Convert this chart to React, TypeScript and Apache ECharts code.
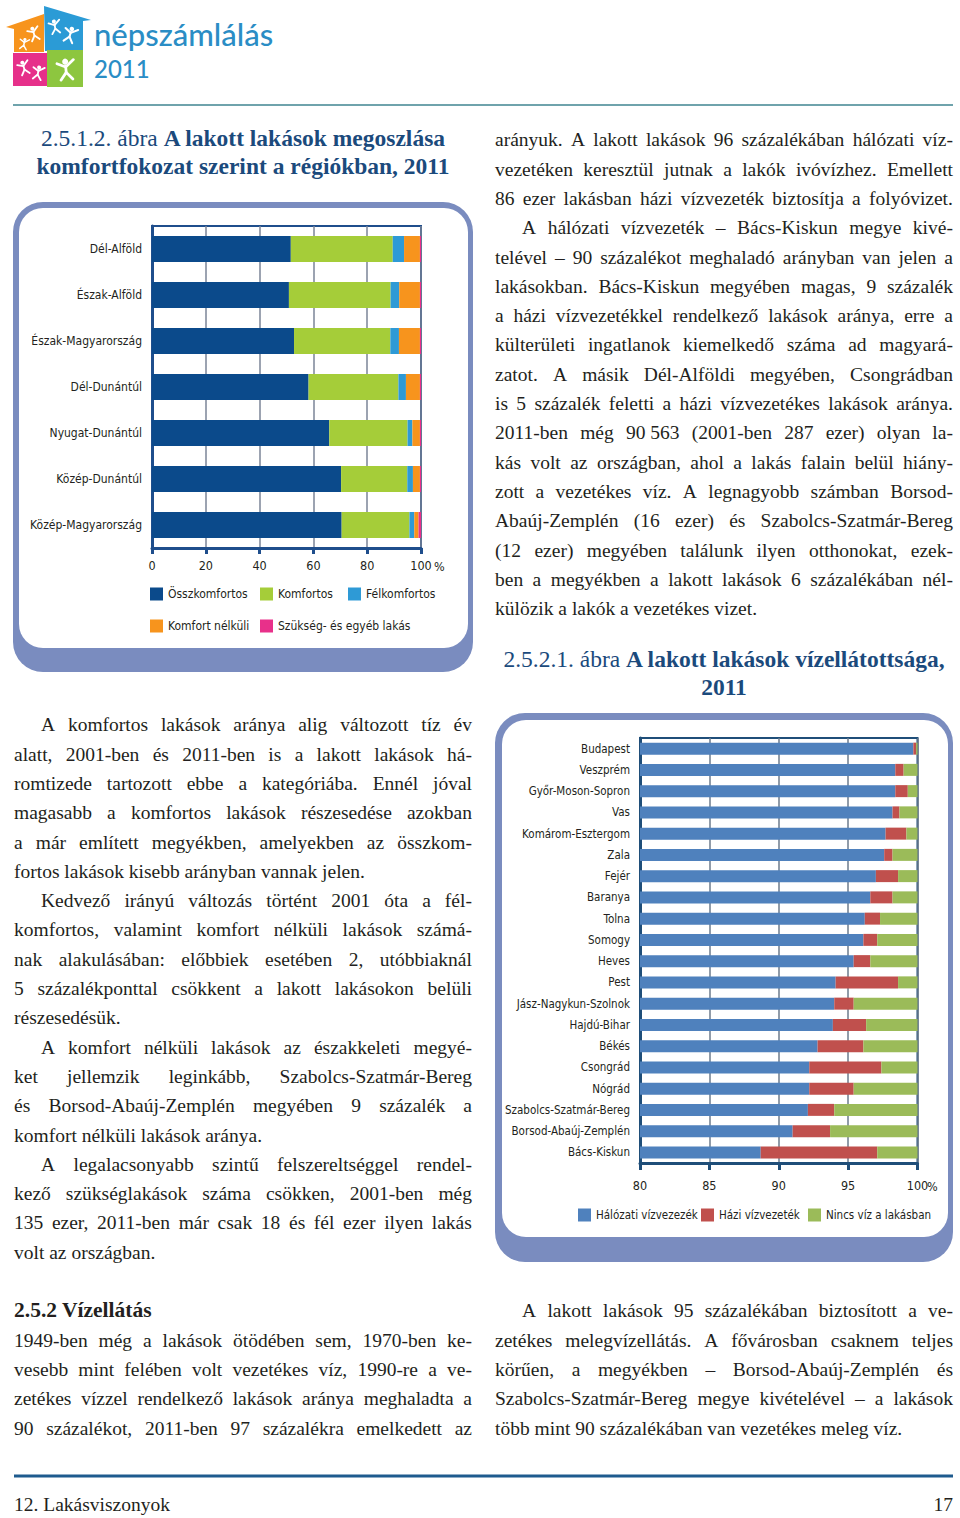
import React, { useEffect, useRef } from "react";
import * as echarts from "echarts";

// ---------- DATA ----------
const regions = ["Dél-Alföld", "Észak-Alföld", "Észak-Magyarország", "Dél-Dunántúl", "Nyugat-Dunántúl", "Közép-Dunántúl", "Közép-Magyarország"];
const osszkomfortos = [51.6, 50.9, 52.8, 58.2, 65.9, 70.3, 70.5];
const komfortos = [37.9, 37.8, 35.8, 33.4, 29.1, 24.6, 25.2];
const felkomfortos = [4.2, 3.2, 3.2, 2.8, 1.8, 2.1, 1.8];
const komfortNelkuli = [5.9, 7.7, 7.8, 5.2, 2.8, 2.6, 1.6];
const szukseg = [0.4, 0.4, 0.4, 0.4, 0.4, 0.4, 0.9];
const ticks1 = [0, 20, 40, 60, 80, 100];

const counties = ["Budapest", "Veszprém", "Győr-Moson-Sopron", "Vas", "Komárom-Esztergom", "Zala", "Fejér", "Baranya", "Tolna", "Somogy", "Heves", "Pest", "Jász-Nagykun-Szolnok", "Hajdú-Bihar", "Békés", "Csongrád", "Nógrád", "Szabolcs-Szatmár-Bereg", "Borsod-Abaúj-Zemplén", "Bács-Kiskun"];
const halozati = [99.7, 98.4, 98.4, 98.2, 97.7, 97.6, 97.0, 96.6, 96.2, 96.1, 95.4, 94.1, 94.0, 93.9, 92.8, 92.2, 92.2, 92.1, 91.0, 88.7];
const hazi = [0.2, 0.6, 0.9, 0.5, 1.5, 0.6, 1.6, 1.6, 1.1, 1.0, 1.2, 4.5, 1.4, 2.4, 3.3, 5.2, 3.2, 1.9, 2.7, 8.4];
const nincs = [0.1, 1.0, 0.7, 1.3, 0.8, 1.8, 1.4, 1.8, 2.7, 2.9, 3.4, 1.4, 4.6, 3.7, 3.9, 2.6, 4.6, 6.0, 6.3, 2.9];
const ticks2 = [80, 85, 90, 95, 100];

// ---------- STYLE ----------
const NARROW = "'Liberation Sans Narrow', 'Arial Narrow', 'DejaVu Sans Condensed', sans-serif";
const SERIF = "'Liberation Serif', 'DejaVu Serif', serif";
const TEXT = "#231F20";
const TITLE = "#1B4A7C";
const DARK1 = "#1F4E8C";
const DARK2 = "#1F4E79";
const FS = 19.5;
const LH = 29.3;

type L = { t: string; j: boolean; i: boolean };
function para(lines: string[], indent: boolean, ends: boolean): L[] {
  return lines.map((t, k) => ({ t, i: indent && k === 0, j: !(ends && k === lines.length - 1) }));
}

const leftText: L[] = [
  ...para([
    "A komfortos lakások aránya alig változott tíz év",
    "alatt, 2001-ben és 2011-ben is a lakott lakások há-",
    "romtizede tartozott ebbe a kategóriába. Ennél jóval",
    "magasabb a komfortos lakások részesedése azokban",
    "a már említett megyékben, amelyekben az összkom-",
    "fortos lakások kisebb arányban vannak jelen.",
  ], true, true),
  ...para([
    "Kedvező irányú változás történt 2001 óta a fél-",
    "komfortos, valamint komfort nélküli lakások számá-",
    "nak alakulásában: előbbiek esetében 2, utóbbiaknál",
    "5 százalékponttal csökkent a lakott lakásokon belüli",
    "részesedésük.",
  ], true, true),
  ...para([
    "A komfort nélküli lakások az északkeleti megyé-",
    "ket jellemzik leginkább, Szabolcs-Szatmár-Bereg",
    "és Borsod-Abaúj-Zemplén megyében 9 százalék a",
    "komfort nélküli lakások aránya.",
  ], true, true),
  ...para([
    "A legalacsonyabb szintű felszereltséggel rendel-",
    "kező szükséglakások száma csökken, 2001-ben még",
    "135 ezer, 2011-ben már csak 18 és fél ezer ilyen lakás",
    "volt az országban.",
  ], true, true),
];

const leftBottom: L[] = para([
  "1949-ben még a lakások ötödében sem, 1970-ben ke-",
  "vesebb mint felében volt vezetékes víz, 1990-re a ve-",
  "zetékes vízzel rendelkező lakások aránya meghaladta a",
  "90 százalékot, 2011-ben 97 százalékra emelkedett az",
], false, false);

const rightTop: L[] = [
  ...para([
    "arányuk. A lakott lakások 96 százalékában hálózati víz-",
    "vezetéken keresztül jutnak a lakók ivóvízhez. Emellett",
    "86 ezer lakásban házi vízvezeték biztosítja a folyóvizet.",
  ], false, false),
  ...para([
    "A hálózati vízvezeték – Bács-Kiskun megye kivé-",
    "telével – 90 százalékot meghaladó arányban van jelen a",
    "lakásokban. Bács-Kiskun megyében magas, 9 százalék",
    "a házi vízvezetékkel rendelkező lakások aránya, erre a",
    "külterületi ingatlanok kiemelkedő száma ad magyará-",
    "zatot. A másik Dél-Alföldi megyében, Csongrádban",
    "is 5 százalék feletti a házi vízvezetékes lakások aránya.",
    "2011-ben még 90\u00a0563 (2001-ben 287 ezer) olyan la-",
    "kás volt az országban, ahol a lakás falain belül hiány-",
    "zott a vezetékes víz. A legnagyobb számban Borsod-",
    "Abaúj-Zemplén (16 ezer) és Szabolcs-Szatmár-Bereg",
    "(12 ezer) megyében találunk ilyen otthonokat, ezek-",
    "ben a megyékben a lakott lakások 6 százalékában nél-",
    "külözik a lakók a vezetékes vizet.",
  ], true, true),
];

const rightBottom: L[] = para([
  "A lakott lakások 95 százalékában biztosított a ve-",
  "zetékes melegvízellátás. A fővárosban csaknem teljes",
  "körűen, a megyékben – Borsod-Abaúj-Zemplén és",
  "Szabolcs-Szatmár-Bereg megye kivételével – a lakások",
  "több mint 90 százalékában van vezetékes meleg víz.",
], true, true);

function Lines({ x, y0, w, lines }: { x: number; y0: number; w: number; lines: L[] }) {
  return (
    <>
      {lines.map((ln, k) => {
        const ind = ln.i ? 27 : 0;
        const y = y0 + k * LH;
        const style: React.CSSProperties = {
          position: "absolute",
          left: x + ind,
          top: y - LH / 2,
          width: w - ind,
          height: LH,
          lineHeight: LH + "px",
          fontFamily: SERIF,
          fontSize: FS,
          color: TEXT,
          whiteSpace: "nowrap",
          display: ln.j ? "flex" : "block",
          justifyContent: "space-between",
        };
        return (
          <div key={k} style={style}>
            {ln.j ? ln.t.split(" ").map((wd, q) => <span key={q}>{wd}</span>) : ln.t}
          </div>
        );
      })}
    </>
  );
}

function Title({ x, w, y, pre, bold, line2 }: { x: number; w: number; y: number; pre: string; bold: string; line2: string }) {
  const base: React.CSSProperties = {
    position: "absolute", left: x, width: w, textAlign: "center", fontFamily: SERIF,
    fontSize: 23.5, color: TITLE, height: 28, lineHeight: "28px", whiteSpace: "nowrap",
  };
  return (
    <>
      <div style={{ ...base, top: y - 14 }}>{pre}<b>{bold}</b></div>
      <div style={{ ...base, top: y + 28 - 14, fontWeight: "bold" }}>{line2}</div>
    </>
  );
}

function fig(cx: number, cy: number, s: number, rot: number) {
  const st = { stroke: "#fff", lineWidth: 2.3 * s, lineCap: "round", lineJoin: "round", fill: null };
  return {
    type: "group", x: cx, y: cy, rotation: rot,
    children: [
      { type: "circle", shape: { cx: 0, cy: -7 * s, r: 2.5 * s }, style: { fill: "#fff" } },
      { type: "polyline", shape: { points: [[-7 * s, -6 * s], [0, -2.5 * s], [7 * s, -8 * s]] }, style: st },
      { type: "polyline", shape: { points: [[0, -3.5 * s], [0, 2 * s]] }, style: st },
      { type: "polyline", shape: { points: [[-5 * s, 8 * s], [0, 2 * s], [5 * s, 8 * s]] }, style: st },
    ],
  };
}

const legend1 = {
  itemWidth: 13, itemHeight: 13, icon: "rect", padding: 0, itemGap: 0,
  textStyle: { fontFamily: NARROW, fontSize: 12, color: TEXT },
};
const legend2 = {
  itemWidth: 13, itemHeight: 13, icon: "rect", padding: 0, itemGap: 0,
  textStyle: { fontFamily: NARROW, fontSize: 11.5, color: TEXT },
};

function buildOption() {
  const tickStyle = { fontFamily: NARROW, fontSize: 12.5, color: TEXT };
  const catStyle = { fontFamily: NARROW, fontSize: 12, color: TEXT };
  const LOGO_FONT = "Lato, 'Open Sans', sans-serif";
  return {
    animation: false,
    graphic: {
      elements: [
        // panels
        { type: "rect", z: -10, shape: { x: 13, y: 202, width: 460, height: 470, r: 30 }, style: { fill: "#7A8CBF" } },
        { type: "rect", z: -9, shape: { x: 19, y: 208, width: 449, height: 440, r: 24 }, style: { fill: "#fff" } },
        { type: "rect", z: -10, shape: { x: 495, y: 713, width: 458, height: 549, r: 30 }, style: { fill: "#7A8CBF" } },
        { type: "rect", z: -9, shape: { x: 502, y: 720, width: 446, height: 517, r: 24 }, style: { fill: "#fff" } },
        // header and footer rules
        { type: "line", shape: { x1: 13, y1: 105, x2: 953, y2: 105 }, style: { stroke: "#6FA3AC", lineWidth: 2 } },
        { type: "line", shape: { x1: 14, y1: 1476, x2: 953, y2: 1476 }, style: { stroke: "#1E5B8E", lineWidth: 3 } },
        // logo
        { type: "polygon", shape: { points: [[6, 27], [44, 14], [44, 52], [14, 52], [14, 29]] }, style: { fill: "#F7941D" } },
        { type: "polygon", shape: { points: [[44, 6], [91, 20], [83, 21], [83, 50], [45, 51]] }, style: { fill: "#2B9BD6" } },
        { type: "rect", shape: { x: 13, y: 53, width: 34, height: 33 }, style: { fill: "#E6308A" } },
        { type: "rect", shape: { x: 47, y: 50, width: 36, height: 37 }, style: { fill: "#8DC63F" } },
        fig(34, 34, 0.8, 0.3),
        fig(24, 44, 0.65, -0.2),
        fig(55, 27, 0.8, 0.2),
        fig(70, 35, 0.9, -0.3),
        fig(24, 68, 0.8, 0.3),
        fig(38, 73, 0.8, -0.2),
        fig(66, 70, 1.2, 0.1),
        { type: "text", x: 94, y: 34, style: { text: "népszámlálás", fontFamily: LOGO_FONT, fontSize: 31, fontWeight: 500, fill: "#2A8DC5", verticalAlign: "middle" } },
        { type: "text", x: 94, y: 68, style: { text: "2011", fontFamily: LOGO_FONT, fontSize: 24, fontWeight: 500, fill: "#2A8DC5", verticalAlign: "middle" } },
        // percent signs after max tick labels
        { type: "text", x: 434, y: 566, style: { text: "%", fontFamily: NARROW, fontSize: 12.5, fill: TEXT, verticalAlign: "middle" } },
        { type: "text", x: 927, y: 1186, style: { text: "%", fontFamily: NARROW, fontSize: 12.5, fill: TEXT, verticalAlign: "middle" } },
      ],
    },
    grid: [
      { left: 152, top: 226, width: 269, height: 322, show: true, borderColor: DARK1, borderWidth: 2, backgroundColor: "rgba(0,0,0,0)" },
      { left: 640, top: 738, width: 277.5, height: 425, show: true, borderColor: DARK2, borderWidth: 2, backgroundColor: "rgba(0,0,0,0)" },
    ],
    xAxis: [
      {
        type: "value", gridIndex: 0, min: ticks1[0], max: ticks1[ticks1.length - 1], interval: 20,
        axisLine: { show: true, lineStyle: { color: DARK1, width: 3 } },
        axisTick: { show: true, length: 6, lineStyle: { color: DARK1, width: 3 } },
        splitLine: { show: true, lineStyle: { color: "#7B8597", width: 1.5 } },
        axisLabel: { ...tickStyle, margin: 11, formatter: (v: number) => String(v) },
      },
      {
        type: "value", gridIndex: 1, min: ticks2[0], max: ticks2[ticks2.length - 1], interval: 5,
        axisLine: { show: true, lineStyle: { color: DARK2, width: 3 } },
        axisTick: { show: true, length: 7, lineStyle: { color: DARK2, width: 3 } },
        splitLine: { show: true, lineStyle: { color: "#6D7B8D", width: 1.5 } },
        axisLabel: { ...tickStyle, margin: 16, formatter: (v: number) => String(v) },
      },
    ],
    yAxis: [
      {
        type: "category", gridIndex: 0, data: regions, inverse: true,
        axisLine: { show: true, lineStyle: { color: DARK1, width: 3 } },
        axisTick: { show: false },
        axisLabel: { ...catStyle, margin: 10 },
      },
      {
        type: "category", gridIndex: 1, data: counties, inverse: true,
        axisLine: { show: true, lineStyle: { color: DARK2, width: 3 } },
        axisTick: { show: false },
        axisLabel: { ...catStyle, fontSize: 11.5, margin: 10 },
      },
    ],
    legend: [
      { ...legend1, data: ["Összkomfortos"], left: 150, top: 587.5 },
      { ...legend1, data: ["Komfortos"], left: 260, top: 587.5 },
      { ...legend1, data: ["Félkomfortos"], left: 348, top: 587.5 },
      { ...legend1, data: ["Komfort nélküli"], left: 150, top: 619.5 },
      { ...legend1, data: ["Szükség- és egyéb lakás"], left: 260, top: 619.5 },
      { ...legend2, data: ["Hálózati vízvezezék"], left: 578, top: 1208.5 },
      { ...legend2, data: ["Házi vízvezeték"], left: 701, top: 1208.5 },
      { ...legend2, data: ["Nincs víz a lakásban"], left: 808, top: 1208.5 },
    ],
    series: [
      { name: "Összkomfortos", type: "bar", stack: "a", xAxisIndex: 0, yAxisIndex: 0, barWidth: 26, data: osszkomfortos, itemStyle: { color: "#0B4A8B" } },
      { name: "Komfortos", type: "bar", stack: "a", xAxisIndex: 0, yAxisIndex: 0, barWidth: 26, data: komfortos, itemStyle: { color: "#A5CD39" } },
      { name: "Félkomfortos", type: "bar", stack: "a", xAxisIndex: 0, yAxisIndex: 0, barWidth: 26, data: felkomfortos, itemStyle: { color: "#2E9AD6" } },
      { name: "Komfort nélküli", type: "bar", stack: "a", xAxisIndex: 0, yAxisIndex: 0, barWidth: 26, data: komfortNelkuli, itemStyle: { color: "#F7941D" } },
      { name: "Szükség- és egyéb lakás", type: "bar", stack: "a", xAxisIndex: 0, yAxisIndex: 0, barWidth: 26, data: szukseg, itemStyle: { color: "#E8308A" } },
      { name: "Hálózati vízvezezék", type: "bar", stack: "b", xAxisIndex: 1, yAxisIndex: 1, barWidth: 12, clip: true, data: halozati, itemStyle: { color: "#4F81BD" } },
      { name: "Házi vízvezeték", type: "bar", stack: "b", xAxisIndex: 1, yAxisIndex: 1, barWidth: 12, clip: true, data: hazi, itemStyle: { color: "#C0504D" } },
      { name: "Nincs víz a lakásban", type: "bar", stack: "b", xAxisIndex: 1, yAxisIndex: 1, barWidth: 12, clip: true, data: nincs, itemStyle: { color: "#9BBB59" } },
    ],
  };
}

export default function App() {
  const ref = useRef<HTMLDivElement>(null);
  useEffect(() => {
    if (!ref.current) return;
    const chart = echarts.init(ref.current, undefined, { renderer: "svg" });
    chart.setOption(buildOption() as any);
    return () => chart.dispose();
  }, []);

  return (
    <div style={{ position: "absolute", left: 0, top: 0, width: 960, height: 1518, overflow: "hidden", background: "#fff" }}>
      <div ref={ref} style={{ position: "absolute", left: 0, top: 0, width: 960, height: 1518 }} />
      <div style={{ position: "absolute", left: 0, top: 0, width: 960, height: 1518, pointerEvents: "none" }}>
        <Title x={14} w={458} y={138} pre="2.5.1.2. ábra " bold="A lakott lakások megoszlása" line2="komfortfokozat szerint a régiókban, 2011" />
        <Title x={495} w={458} y={659} pre="2.5.2.1. ábra " bold="A lakott lakások vízellátottsága," line2="2011" />
        <Lines x={14} y0={725} w={458} lines={leftText} />
        <div style={{ position: "absolute", left: 14, top: 1311 - LH / 2, height: LH, lineHeight: LH + "px", fontFamily: SERIF, fontSize: 21.5, fontWeight: "bold", color: TEXT, whiteSpace: "nowrap" }}>2.5.2 Vízellátás</div>
        <Lines x={14} y0={1311 + LH} w={458} lines={leftBottom} />
        <Lines x={495} y0={140} w={458} lines={rightTop} />
        <Lines x={495} y0={1311} w={458} lines={rightBottom} />
        <div style={{ position: "absolute", left: 14, top: 1505 - 14, height: 28, lineHeight: "28px", fontFamily: SERIF, fontSize: FS, color: TEXT, whiteSpace: "nowrap" }}>12. Lakásviszonyok</div>
        <div style={{ position: "absolute", right: 960 - 953, top: 1505 - 14, height: 28, lineHeight: "28px", fontFamily: SERIF, fontSize: FS, color: TEXT, whiteSpace: "nowrap" }}>17</div>
      </div>
    </div>
  );
}
